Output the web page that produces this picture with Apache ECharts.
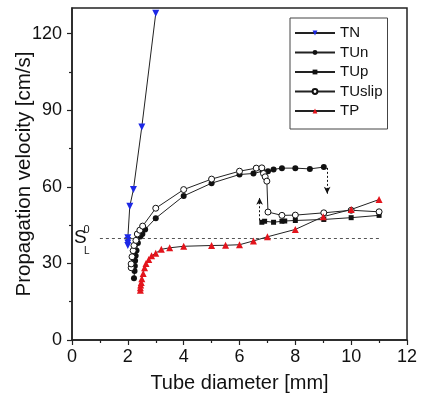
<!DOCTYPE html>
<html><head><meta charset="utf-8">
<script src="https://cdn.jsdelivr.net/npm/echarts@6/dist/echarts.min.js"></script>
<style>html,body{margin:0;padding:0;background:#fff}#c{width:424px;height:400px}</style>
</head><body><div id="c"></div>
<script>
const xTicks = [0, 2, 4, 6, 8, 10, 12];
const yTicks = [0, 30, 60, 90, 120];
const yMinorTicks = [15, 45, 75, 105];

const TN = [[2.0,37.0],[2.0,38.0],[2.0,39.0],[2.0,40.0],[2.07,52.4],[2.2,58.9],[2.5,83.4],[3.0,127.9]];
const TUn = [[2.22,24.2],[2.24,27.0],[2.25,29.0],[2.26,31.0],[2.28,33.0],[2.31,35.0],[2.36,38.0],[2.45,40.5],[2.52,41.5],[2.62,43.3],[3.0,47.7],[4.0,56.4],[5.0,61.4],[6.0,64.8],[6.5,65.2],[6.83,66.1],[7.02,66.1],[7.22,66.8],[7.52,67.3],[8.0,67.3],[8.52,67.0],[9.02,67.7]];
const TUp = [[6.8,46.1],[6.9,46.5],[7.22,46.1],[7.52,46.5],[7.62,46.6],[8.0,46.8],[9.02,47.2],[10.0,47.9],[11.0,48.8]];
const TUslip = [[2.12,28.3],[2.12,29.8],[2.15,32.6],[2.19,35.0],[2.22,37.0],[2.29,39.0],[2.34,41.5],[2.43,43.0],[2.53,44.6],[3.0,51.6],[4.0,58.9],[5.0,63.0],[6.0,66.1],[6.6,67.3],[6.8,67.4],[6.86,65.2],[6.92,63.9],[6.98,62.2],[7.02,50.1],[7.52,48.8],[8.0,48.9],[9.02,49.8],[10.0,50.8],[11.0,50.2]];
const TP = [[2.45,19.5],[2.45,20.5],[2.46,21.5],[2.48,22.5],[2.5,24.0],[2.55,26.0],[2.6,28.3],[2.65,30.0],[2.75,31.5],[2.85,33.0],[3.0,34.0],[3.2,35.5],[3.5,36.1],[4.0,36.7],[5.0,37.0],[5.5,37.1],[6.0,37.3],[6.5,38.8],[7.0,40.4],[8.0,43.3],[9.0,48.3],[10.0,51.1],[11.0,55.0]];

const SL0 = 40;
const SL0Range = [1, 11];
const arrowDown = [[9.05,67.4],[9.14,67.4],[9.14,57.3]];
const arrowUp = [[6.8,46.9],[6.72,46.9],[6.72,55.7]];

const FONT = 'Liberation Sans';
const LINE = '#222';

function arrowPath(pts) {
  return [
    [{coord: pts[0], symbol: 'none'}, {coord: pts[1], symbol: 'none'}],
    [{coord: pts[1], symbol: 'none'}, {coord: pts[2], symbol: 'arrow', symbolSize: [5, 7]}]
  ];
}

const chart = echarts.init(document.getElementById('c'), null, {renderer: 'canvas'});
const baseSeries = {type: 'line', smooth: false, animation: false, lineStyle: {color: LINE, width: 1}, emphasis: {disabled: true}};

chart.setOption({
  animation: false,
  textStyle: {fontFamily: FONT},
  grid: {left: 72, right: 17, top: 8, bottom: 60, outerBoundsMode: 'none', containLabel: false,
         show: true, borderColor: '#222', borderWidth: 1.5, backgroundColor: 'transparent'},
  legend: {
    orient: 'vertical', left: 290, top: 18,
    padding: [7, 5, 10, 4], itemGap: 3.5,
    itemWidth: 40, itemHeight: 6,
    borderColor: '#444', borderWidth: 1,
    textStyle: {fontFamily: FONT, fontSize: 15, color: '#111', lineHeight: 16},
    data: ['TN', 'TUn', 'TUp', 'TUslip', 'TP']
  },
  xAxis: {
    type: 'value', min: 0, max: 12, interval: 2,
    axisLine: {lineStyle: {color: '#222', width: 1.5}},
    axisTick: {show: true, inside: false, length: 5, lineStyle: {color: '#222', width: 1.2}, customValues: xTicks},
    minorTick: {show: true, splitNumber: 2, length: 3, lineStyle: {color: '#222', width: 1.2}},
    axisLabel: {fontSize: 18, color: '#111', margin: 8, fontFamily: FONT, customValues: xTicks},
    splitLine: {show: false},
    name: 'Tube diameter [mm]', nameLocation: 'middle', nameGap: 33, nameMoveOverlap: false,
    nameTextStyle: {fontSize: 20, color: '#111', fontFamily: FONT}
  },
  yAxis: [{
    type: 'value', min: 0, max: 130, interval: 30,
    axisLine: {show: true, lineStyle: {color: '#222', width: 1.5}},
    axisTick: {show: true, inside: false, length: 5, lineStyle: {color: '#222', width: 1.2}, customValues: yTicks},
    axisLabel: {fontSize: 18, color: '#111', margin: 10, fontFamily: FONT, customValues: yTicks},
    splitLine: {show: false},
    name: 'Propagation velocity [cm/s]', nameLocation: 'middle', nameGap: 37, nameMoveOverlap: false,
    nameTextStyle: {fontSize: 20.5, color: '#111', fontFamily: FONT}
  }, {
    type: 'value', min: 0, max: 130, interval: 15, position: 'left',
    axisLine: {show: false},
    axisTick: {show: true, inside: false, length: 3, lineStyle: {color: '#222', width: 1.2}, customValues: yMinorTicks},
    axisLabel: {show: false},
    splitLine: {show: false}
  }],
  series: [
    Object.assign({}, baseSeries, {
      name: 'TN', data: TN, symbol: 'triangle', symbolRotate: 180, symbolSize: 7,
      itemStyle: {color: '#1c28e6'}, z: 3,
      markLine: {
        silent: true, animation: false, symbol: 'none', label: {show: false},
        lineStyle: {color: '#555', type: [3, 3], width: 1},
        data: [[{coord: [SL0Range[0], SL0]}, {coord: [SL0Range[1], SL0]}]]
      }
    }),
    Object.assign({}, baseSeries, {
      name: 'TUn', data: TUn, symbol: 'circle', symbolSize: 6,
      itemStyle: {color: '#111'}, z: 4,
      markLine: {
        silent: true, animation: false, symbol: 'none', label: {show: false},
        lineStyle: {color: '#111', type: [2, 2], width: 1},
        data: arrowPath(arrowDown)
      }
    }),
    Object.assign({}, baseSeries, {
      name: 'TUp', data: TUp, symbol: 'rect', symbolSize: 5,
      itemStyle: {color: '#111'}, z: 4,
      markLine: {
        silent: true, animation: false, symbol: 'none', label: {show: false},
        lineStyle: {color: '#111', type: [2, 2], width: 1},
        data: arrowPath(arrowUp)
      }
    }),
    Object.assign({}, baseSeries, {
      name: 'TUslip', data: TUslip, symbol: 'circle', symbolSize: 6,
      itemStyle: {color: '#fff', borderColor: '#111', borderWidth: 1}, z: 5
    }),
    Object.assign({}, baseSeries, {
      name: 'TP', data: TP, symbol: 'triangle', symbolSize: 7,
      itemStyle: {color: '#e3141c'}, z: 6
    })
  ]
});

const p = chart.convertToPixel({gridIndex: 0}, [SL0Range[0], SL0]);
chart.setOption({
  graphic: [
    {type: 'text', x: p[0] - 26, y: p[1] - 10, silent: true,
     style: {text: 'S', fontSize: 19, fontFamily: FONT, fill: '#111'}},
    {type: 'text', x: p[0] - 16.5, y: p[1] - 13, silent: true,
     style: {text: '0', fontSize: 11, fontFamily: FONT, fill: '#111'}},
    {type: 'text', x: p[0] - 16, y: p[1] + 8, silent: true,
     style: {text: 'L', fontSize: 10, fontFamily: FONT, fill: '#111'}}
  ]
});
</script>
</body></html>
